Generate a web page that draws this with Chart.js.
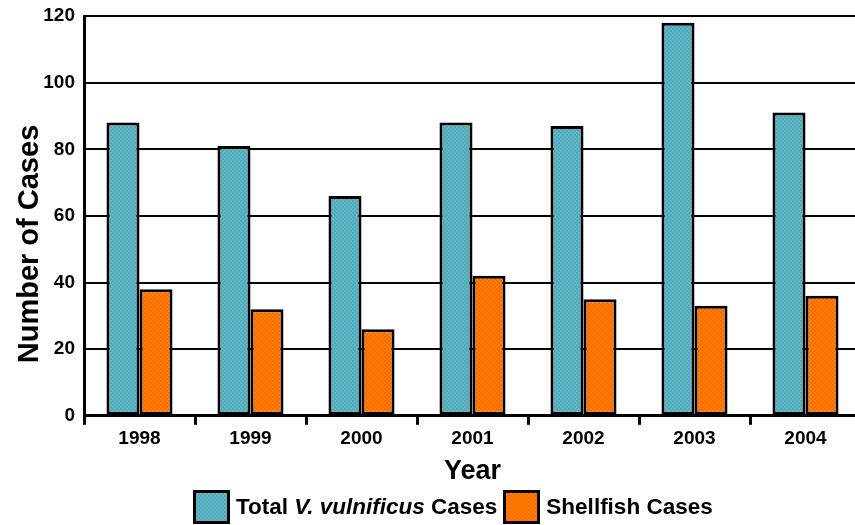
<!DOCTYPE html>
<html>
<head>
<meta charset="utf-8">
<script src="https://cdn.jsdelivr.net/npm/chart.js@4/dist/chart.umd.min.js"></script>
<style>
  html, body { margin: 0; padding: 0; background: #fff; overflow: hidden; }
  #wrap { position: relative; width: 855px; height: 525px; overflow: hidden; }
  canvas { position: absolute; left: 0; top: 0; }
  #legend {
    position: absolute; left: 193px; top: 490px;
    display: flex; align-items: center;
    font-family: "Liberation Sans", Arial, sans-serif; font-weight: bold; font-size: 22.5px; color: #000;
  }
  .box { width: 37px; height: 34px; box-sizing: border-box; border: 3px solid #000; margin-right: 6px; }
  .teal { background-color: #44c6bc;
    background-image: repeating-conic-gradient(#6c9ac4 0 25%, transparent 0 50%); background-size: 4px 4px; }
  .orange { background-color: #ff8000;
    background-image: repeating-conic-gradient(#ff6a00 0 25%, transparent 0 50%); background-size: 4px 4px; }
  .item { display: flex; align-items: center; margin-right: 6px; }
</style>
</head>
<body>
<div id="wrap">
  <canvas id="c" width="861" height="525"></canvas>
  <div id="legend">
    <div class="item"><div class="box teal"></div><span>Total <i>V. vulnificus</i> Cases</span></div>
    <div class="item"><div class="box orange"></div><span>Shellfish Cases</span></div>
  </div>
</div>
<script>
const years = ['1998', '1999', '2000', '2001', '2002', '2003', '2004'];
const totalCases = [88, 81, 66, 88, 87, 118, 91];
const shellfishCases = [38, 32, 26, 42, 35, 33, 36];
const yTicks = [0, 20, 40, 60, 80, 100, 120];

function makePattern(c1, c2) {
  const p = document.createElement('canvas');
  p.width = 4; p.height = 4;
  const g = p.getContext('2d');
  g.fillStyle = c1; g.fillRect(0, 0, 4, 4);
  g.fillStyle = c2; g.fillRect(0, 0, 2, 2); g.fillRect(2, 2, 2, 2);
  return g.createPattern(p, 'repeat');
}
const ctx = document.getElementById('c').getContext('2d');
const tealPat = makePattern('#44c6bc', '#6c9ac4');
const orangePat = makePattern('#ff8000', '#ff6a00');

const FONT = '"Liberation Sans", Arial, sans-serif';

const yTitlePlugin = {
  id: 'yTitle',
  afterDraw(chart) {
    const c = chart.ctx;
    c.save();
    c.translate(30, 244);
    c.rotate(-Math.PI / 2);
    c.font = 'bold 29px ' + FONT;
    c.fillStyle = '#000';
    c.textAlign = 'center';
    c.textBaseline = 'middle';
    c.fillText('Number of Cases', 0, 0);
    c.restore();
  }
};

new Chart(ctx, {
  type: 'bar',
  data: {
    labels: years,
    datasets: [
      { label: 'Total V. vulnificus Cases', data: totalCases, backgroundColor: tealPat,
        borderColor: '#000', borderWidth: 3, borderSkipped: false,
        categoryPercentage: 0.595, barPercentage: 1.0 },
      { label: 'Shellfish Cases', data: shellfishCases, backgroundColor: orangePat,
        borderColor: '#000', borderWidth: 3, borderSkipped: false,
        categoryPercentage: 0.595, barPercentage: 1.0 }
    ]
  },
  options: {
    responsive: false,
    animation: false,
    layout: { padding: { top: 0, right: 0, left: 0, bottom: 35 } },
    plugins: { legend: { display: false }, tooltip: { enabled: false } },
    scales: {
      x: {
        offset: true,
        grid: { display: true, offset: true, drawOnChartArea: false, drawTicks: true, tickLength: 9,
                color: '#000', lineWidth: 3 },
        border: { display: true, color: '#000', width: 3 },
        ticks: { color: '#000', font: { family: FONT, weight: 'bold', size: 19 }, padding: 3 },
        title: { display: true, text: 'Year', color: '#000',
                 font: { family: FONT, weight: 'bold', size: 27 }, padding: { top: 2, bottom: 2 } }
      },
      y: {
        min: 0, max: 120,
        afterFit(scale) { scale.width = 84; scale.paddingTop = 16; },
        afterBuildTicks(scale) { scale.ticks = yTicks.map(v => ({ value: v })); },
        grid: { color: '#000', lineWidth: 2, drawTicks: false },
        border: { display: true, color: '#000', width: 3 },
        ticks: { color: '#000', font: { family: FONT, weight: 'bold', size: 19 }, padding: 9 }
      }
    }
  },
  plugins: [yTitlePlugin]
});
</script>
</body>
</html>
